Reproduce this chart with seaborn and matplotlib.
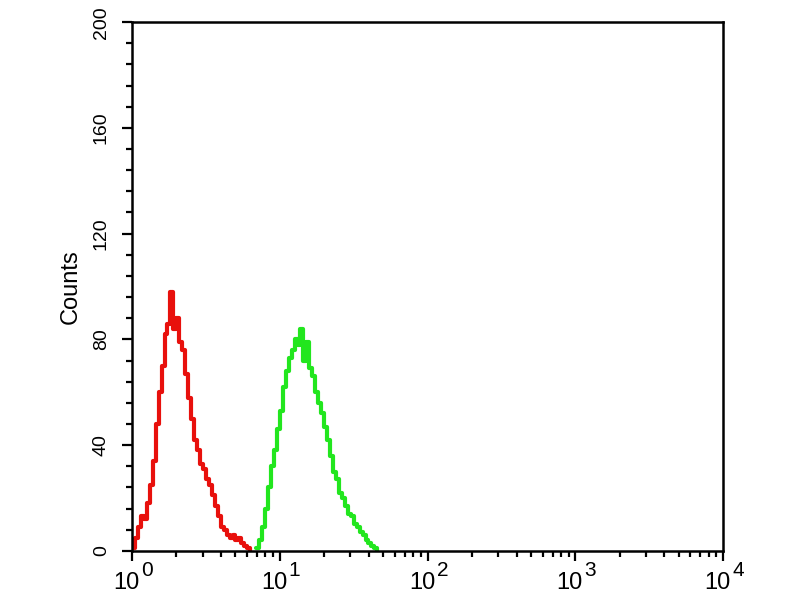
import numpy as np
import pandas as pd
import matplotlib
matplotlib.use("Agg")
import matplotlib.pyplot as plt
import matplotlib.transforms as mtransforms
import seaborn as sns
from matplotlib.ticker import LogLocator, MultipleLocator, FixedLocator

# --- data (bin start in decades, counts per bin) ---
bin_step = 0.02
red_start = 0.00
red_counts = [1, 5, 9, 13, 12, 18, 25, 34, 48, 60, 70, 82, 86, 98, 84, 88, 79, 76, 67,
              58, 50, 42, 38, 33, 31, 27, 25, 21, 17, 13, 9, 8, 6, 5, 6, 4, 5, 3, 2, 1]
green_start = 0.84
green_counts = [1, 4, 9, 16, 24, 32, 38, 46, 53, 62, 68, 73, 76, 80, 78, 84, 72, 79, 69,
                66, 60, 56, 52, 47, 42, 36, 30, 27, 22, 20, 17, 14, 13, 10, 9, 7, 6, 4, 3, 2, 1]
x_decades = [0, 1, 2, 3, 4]
y_ticks = [0, 40, 80, 120, 160, 200]

def to_frame(start, counts, name):
    edges = start + bin_step * np.arange(len(counts) + 1)
    x = 10 ** edges
    y = list(counts) + [0]
    return pd.DataFrame({"x": x, "y": y, "s": name})

red = to_frame(red_start, red_counts, "red")
green = to_frame(green_start, green_counts, "green")

sns.set_style("ticks")
plt.rcParams["font.family"] = ["Liberation Sans", "DejaVu Sans"]
plt.rcParams["text.color"] = "black"
plt.rcParams["axes.labelcolor"] = "black"

fig = plt.figure(figsize=(8, 6), dpi=100)
ax = fig.add_axes([0.165, 0.082, 0.739, 0.881])

sns.lineplot(data=red, x="x", y="y", color="#e8100c", drawstyle="steps-post",
             linewidth=3.0, ax=ax, estimator=None)
sns.lineplot(data=green, x="x", y="y", color="#22e61e", drawstyle="steps-post",
             linewidth=3.0, ax=ax, estimator=None)

ax.set_xscale("log")
ax.set_xlim(1, 1e4)
ax.set_ylim(0, 200)
ax.set_yticks(y_ticks)
ax.yaxis.set_minor_locator(MultipleLocator(8))
ax.xaxis.set_major_locator(FixedLocator([10.0 ** d for d in x_decades]))
ax.xaxis.set_minor_locator(LogLocator(base=10, subs=np.arange(2, 10), numticks=10))
ax.set_xticklabels(["10"] * len(x_decades))

for s in ax.spines.values():
    s.set_color("black")
    s.set_linewidth(1.8)

ax.tick_params(axis="both", which="major", direction="out", length=7, width=1.6,
               colors="black")
ax.tick_params(axis="both", which="minor", direction="out", length=4, width=1.6,
               colors="black")
ax.tick_params(axis="x", labelsize=17, pad=8)
ax.tick_params(axis="y", labelsize=14, pad=9)
for lab in ax.get_yticklabels():
    lab.set_rotation(90)
    lab.set_va("center")

shift = mtransforms.ScaledTranslation(-4 / 72, 0, fig.dpi_scale_trans)
for lab in ax.get_xticklabels():
    lab.set_transform(lab.get_transform() + shift)
    lab.set_family(["Liberation Sans Narrow", "Liberation Sans"])

# exponents of the decade labels
for d in x_decades:
    ax.annotate(str(d), xy=(10.0 ** d, 0), xycoords=("data", "axes fraction"),
                xytext=(6.5, -7), textcoords="offset points",
                ha="left", va="top", fontsize=15, color="black",
                family=["Liberation Sans Narrow", "Liberation Sans"])

ax.set_xlabel("")
ax.set_ylabel("Counts", fontsize=17, labelpad=8, color="black")

fig.savefig("out.png", dpi=100)
